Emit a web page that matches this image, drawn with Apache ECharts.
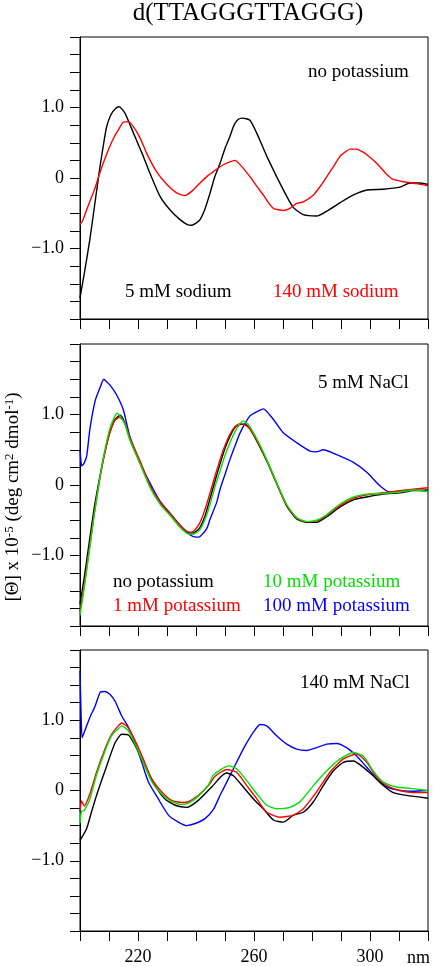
<!DOCTYPE html>
<html><head><meta charset="utf-8">
<script src="https://cdn.jsdelivr.net/npm/echarts@6/dist/echarts.min.js"></script>
<style>html,body{margin:0;padding:0;background:#fff}#c{width:433px;height:966px}</style>
</head><body><div id="c"></div>
<script>
// ---- data: [wavelength nm, ellipticity x 1e-5] ----
const p1Sodium5 = [[200,-1.70],[201.5,-1.35],[203.4,-0.87],[205,-0.40],[206.9,0.16],[208,0.45],[209.2,0.73],[210.7,0.90],[212.1,0.98],[213.5,1.01],[215.5,0.92],[218.4,0.64],[221.8,0.31],[224.1,0.07],[227.6,-0.26],[231,-0.45],[234.5,-0.59],[237,-0.66],[238.5,-0.67],[240,-0.64],[241.4,-0.59],[243,-0.45],[244.8,-0.22],[246.5,0.02],[248.3,0.21],[250,0.42],[251.7,0.59],[253,0.74],[254.5,0.83],[256,0.85],[258.6,0.82],[260.9,0.64],[264.4,0.31],[267.8,0.02],[271.3,-0.26],[273.6,-0.42],[277,-0.52],[281.6,-0.54],[285.1,-0.47],[289.7,-0.35],[294.3,-0.24],[298.9,-0.17],[304.6,-0.16],[310.3,-0.13],[313.8,-0.07],[317,-0.07],[320,-0.09]];
const p1Sodium140 = [[200,-0.66],[201,-0.60],[202.3,-0.45],[203.7,-0.30],[205.2,-0.14],[206.5,0.03],[208,0.21],[210.3,0.45],[212,0.60],[213.2,0.68],[214.9,0.79],[216.7,0.80],[218.4,0.73],[220.7,0.57],[223,0.35],[226.4,0.09],[229.9,-0.09],[233.3,-0.21],[236.2,-0.25],[238.5,-0.19],[241.4,-0.07],[244,0.03],[246,0.09],[248.3,0.16],[250.6,0.21],[253.4,0.25],[255.2,0.19],[258.6,0.02],[261,-0.12],[263.2,-0.24],[265,-0.35],[266.7,-0.43],[270.1,-0.46],[272.4,-0.43],[274.7,-0.36],[277,-0.34],[280.5,-0.24],[283,-0.11],[285.1,0.02],[287.5,0.17],[289.7,0.31],[291.5,0.37],[293.1,0.41],[295.4,0.41],[297,0.38],[298.9,0.33],[302.3,0.21],[305.8,0.05],[308,-0.02],[312.6,-0.06],[316,-0.08],[320,-0.11]];

const p2K0 = [[200,-1.69],[201.5,-1.30],[203.4,-0.75],[205,-0.30],[206.9,0.13],[208.5,0.45],[210.3,0.75],[212.1,0.93],[213.8,0.99],[215.5,0.88],[217.2,0.65],[220.7,0.32],[224.1,-0.01],[227.6,-0.25],[231,-0.41],[234.5,-0.58],[237,-0.67],[238.5,-0.68],[240,-0.66],[241.4,-0.60],[243,-0.45],[244.8,-0.20],[246.5,0.05],[248.3,0.30],[250,0.52],[251.7,0.69],[253.5,0.82],[255.5,0.86],[257,0.86],[258.5,0.80],[260.9,0.63],[264.4,0.34],[267.8,0.02],[271.3,-0.30],[274.7,-0.48],[278.2,-0.53],[281.6,-0.53],[285.1,-0.45],[289.7,-0.31],[294.3,-0.21],[298.9,-0.17],[304.6,-0.13],[310.3,-0.11],[314.9,-0.08],[320,-0.07]];
const p2K1 = [[200,-1.80],[201.5,-1.40],[203.4,-0.85],[205,-0.38],[206.9,0.10],[208.5,0.45],[210.3,0.74],[212.1,0.92],[213.6,0.96],[215.5,0.88],[217.2,0.67],[220.7,0.34],[224.1,0.0],[227.6,-0.24],[231,-0.40],[234.5,-0.57],[237,-0.66],[238.5,-0.67],[240,-0.62],[241.4,-0.53],[243,-0.36],[244.8,-0.12],[246.5,0.12],[248.3,0.36],[250,0.56],[251.7,0.72],[253.5,0.83],[255.2,0.87],[257,0.85],[258.5,0.80],[260.9,0.64],[264.4,0.35],[267.8,0.03],[271.3,-0.29],[274.7,-0.47],[278.2,-0.52],[281.6,-0.51],[285.1,-0.43],[289.7,-0.29],[294.3,-0.19],[298.9,-0.14],[304.6,-0.11],[310.3,-0.08],[314.9,-0.06],[320,-0.04]];
const p2K10 = [[200,-1.85],[201.5,-1.45],[203.4,-0.88],[205,-0.40],[206.9,0.12],[208.5,0.48],[210.3,0.80],[212.1,0.98],[212.8,1.02],[214,0.97],[215.5,0.86],[217.2,0.64],[220.7,0.30],[224.1,-0.03],[227.6,-0.27],[231,-0.43],[234.5,-0.60],[237,-0.69],[238.5,-0.70],[240,-0.68],[241.4,-0.63],[243,-0.50],[244.8,-0.28],[246.5,-0.03],[248.3,0.20],[250,0.42],[251.7,0.60],[253.5,0.76],[255.2,0.87],[256.3,0.91],[258,0.86],[260.9,0.66],[264.4,0.36],[267.8,0.03],[271.3,-0.28],[274.7,-0.46],[278.2,-0.52],[281.6,-0.50],[285.1,-0.42],[289.7,-0.27],[294.3,-0.17],[298.9,-0.13],[304.6,-0.12],[310.3,-0.10],[314.9,-0.07],[320,-0.09]];
const p2K100 = [[200,0.50],[200.6,0.27],[201.3,0.30],[202.3,0.41],[203.4,0.79],[205.2,1.19],[206.9,1.38],[208.2,1.50],[209.3,1.46],[210.3,1.42],[212.6,1.28],[214.9,1.07],[217.2,0.69],[220.7,0.32],[224.1,0.03],[227.6,-0.23],[231,-0.40],[234.5,-0.57],[238,-0.71],[240.2,-0.74],[241.4,-0.73],[243.7,-0.62],[244.8,-0.49],[247.1,-0.25],[248.3,-0.06],[250,0.15],[251.7,0.36],[253.5,0.56],[255.2,0.74],[258.6,0.98],[261.5,1.05],[263.2,1.08],[266.7,0.93],[270.1,0.74],[274.7,0.60],[279.3,0.48],[281.5,0.47],[283.9,0.50],[288.5,0.43],[294.3,0.32],[298.9,0.18],[303.4,-0.01],[306.9,-0.10],[311.5,-0.08],[314.9,-0.07],[320,-0.09]];

const p3K0 = [[200,-0.71],[202.3,-0.54],[204,-0.30],[205.7,-0.07],[207.5,0.15],[209.2,0.35],[212.1,0.68],[214.4,0.80],[216.7,0.79],[219,0.64],[222.4,0.35],[225.9,0.07],[229.3,-0.12],[232.8,-0.21],[236.8,-0.24],[240.8,-0.14],[245.4,0.05],[248.9,0.21],[250.5,0.25],[252.9,0.21],[256.3,0.05],[259.8,-0.12],[263.2,-0.26],[266.7,-0.42],[270.1,-0.45],[273.6,-0.35],[277,-0.31],[280.5,-0.16],[283.9,0.07],[287.4,0.28],[290.8,0.40],[294.3,0.42],[297.7,0.33],[301.1,0.21],[304.6,0.07],[308,-0.03],[312.6,-0.07],[320,-0.11]];
const p3K1 = [[200,-0.30],[200.5,-0.15],[201.5,-0.22],[203.4,-0.05],[205.7,0.26],[208.6,0.59],[210.9,0.80],[213.2,0.92],[214.4,0.96],[216.7,0.89],[219,0.71],[221.8,0.45],[224.7,0.17],[228.2,-0.02],[231.6,-0.14],[235.1,-0.17],[237.4,-0.16],[240.8,-0.07],[244.3,0.07],[246.5,0.20],[250.6,0.30],[254,0.26],[257.5,0.07],[261,-0.12],[264.4,-0.31],[269,-0.38],[273.6,-0.35],[277,-0.26],[281.6,-0.02],[286.2,0.26],[290.8,0.45],[295.4,0.52],[298.9,0.40],[302.3,0.19],[305.8,0.07],[310.3,0.0],[314.9,-0.03],[320,-0.03]];
const p3K10 = [[200,-0.47],[200.5,-0.30],[201.5,-0.28],[203.4,-0.12],[205.7,0.22],[208.6,0.56],[210.9,0.78],[213.2,0.88],[214.4,0.92],[216.7,0.85],[219,0.66],[221.8,0.40],[224.7,0.13],[228.2,-0.05],[231.6,-0.16],[235.1,-0.20],[237.4,-0.18],[240.8,-0.08],[244.3,0.08],[246,0.22],[251.2,0.35],[254,0.31],[257.5,0.14],[261,-0.05],[264.4,-0.21],[267.8,-0.26],[272.4,-0.24],[275.9,-0.16],[280.5,0.07],[285.1,0.28],[289.7,0.45],[294.3,0.54],[297.7,0.49],[301.1,0.28],[304.6,0.12],[309.2,0.05],[313.8,0.03],[320,0.0]];
const p3K100 = [[200,1.70],[200.3,1.20],[200.7,0.75],[201.2,0.80],[202.3,0.92],[203.4,1.04],[205.2,1.20],[207,1.40],[208.6,1.41],[210.3,1.37],[212.1,1.27],[214.4,1.06],[216.7,0.90],[219,0.68],[221.3,0.40],[223.6,0.12],[227,-0.12],[230.5,-0.35],[233.9,-0.45],[236.8,-0.50],[239.7,-0.47],[243.1,-0.40],[246,-0.27],[248.5,-0.05],[249.4,0.02],[252.9,0.31],[256.3,0.59],[259.8,0.83],[262.1,0.94],[264.4,0.92],[267.8,0.78],[271.3,0.66],[274.7,0.59],[278.2,0.57],[281.6,0.61],[285.1,0.66],[288.5,0.67],[291.9,0.61],[295.4,0.49],[298.9,0.33],[302.3,0.17],[305.8,0.05],[310.3,0.0],[314.9,-0.01],[320,0.0]];

const xTickLabels = [220, 260, 300];
const yTickLabels = {'1': '1.0', '0': '0', '-1': '\u22121.0'};
const titleText = 'd(TTAGGGTTAGGG)';

// ---- layout ----
const FONT = '"Liberation Serif", "Times New Roman", serif';
const tops = [37, 344, 650];
const H = 282;
const C = {k: '#000000', r: '#ff0000', g: '#00e000', b: '#0000ff'};

const grids = tops.map(t => ({left: 80, width: 348, top: t, height: H, show: true,
  borderColor: '#000', borderWidth: 1, backgroundColor: 'transparent', containLabel: false}));

const xAxes = tops.map((t, i) => ({
  type: 'value', gridIndex: i, min: 200, max: 320, interval: 10,
  axisLine: {show: true, onZero: false, lineStyle: {color: '#000', width: 1}},
  axisTick: {show: true, inside: false, length: 10, lineStyle: {color: '#000', width: 1}},
  splitLine: {show: false},
  axisLabel: {show: i === 2, margin: 17, color: '#000', fontSize: 18, fontFamily: FONT,
    formatter: v => xTickLabels.includes(Math.round(v)) ? String(Math.round(v)) : ''}
}));
const yAxes = tops.map((t, i) => ({
  type: 'value', gridIndex: i, min: -2, max: 2, interval: 0.25,
  axisLine: {show: true, onZero: false, lineStyle: {color: '#000', width: 1}},
  axisTick: {show: true, inside: false, length: 10, lineStyle: {color: '#000', width: 1}},
  splitLine: {show: false},
  axisLabel: {margin: 16, color: '#000', fontSize: 18, fontFamily: FONT,
    formatter: v => { const k = String(Math.round(v)); return Math.abs(v - Math.round(v)) < 1e-6 && yTickLabels[k] ? yTickLabels[k] : ''; }}
}));

function line(data, color, gi) {
  return {type: 'line', data: data, xAxisIndex: gi, yAxisIndex: gi, showSymbol: false, smooth: 0.2,
    lineStyle: {color: color, width: 1.4}, itemStyle: {color: color}, animation: false, clip: true, z: 3};
}
const series = [
  line(p1Sodium5, C.k, 0), line(p1Sodium140, C.r, 0),
  line(p2K100, C.b, 1), line(p2K0, C.k, 1), line(p2K1, C.r, 1), line(p2K10, C.g, 1),
  line(p3K100, C.b, 2), line(p3K0, C.k, 2), line(p3K1, C.r, 2), line(p3K10, C.g, 2)
];

function txt(s, x, y, color, align, size) {
  return {type: 'text', x: x, y: y, z: 10, style: {text: s, fill: color, font: (size || 19) + 'px ' + FONT,
    textAlign: align || 'left', textVerticalAlign: 'middle'}};
}
const graphics = [
  txt(titleText, 248, 13, '#000', 'center', 25),
  txt('no potassium', 308, 72, '#000'),
  txt('5 mM sodium', 125, 292, '#000'),
  txt('140 mM sodium', 273, 292, C.r),
  txt('5 mM NaCl', 318, 383, '#000'),
  txt('no potassium', 113, 582, '#000'),
  txt('1 mM potassium', 113, 606, C.r),
  txt('10 mM potassium', 263, 582, C.g),
  txt('100 mM potassium', 263, 606, C.b),
  txt('140 mM NaCl', 300, 683, '#000'),
  txt('nm', 407, 958, '#000', 'left', 18),
  {type: 'text', x: 13, y: 497, rotation: Math.PI / 2, z: 10,
    style: {text: '[\u0398] x 10{s|-5} (deg cm{s|2} dmol{s|-1})', fill: '#000',
      font: '19px ' + FONT, textAlign: 'center', textVerticalAlign: 'middle',
      rich: {s: {fontSize: 13, fontFamily: FONT, fill: '#000', verticalAlign: 'top', lineHeight: 13}}}}
];

const chart = echarts.init(document.getElementById('c'), null, {renderer: 'canvas'});
chart.setOption({
  animation: false, backgroundColor: '#fff',
  grid: grids, xAxis: xAxes, yAxis: yAxes, series: series, graphic: graphics
});
</script></body></html>
